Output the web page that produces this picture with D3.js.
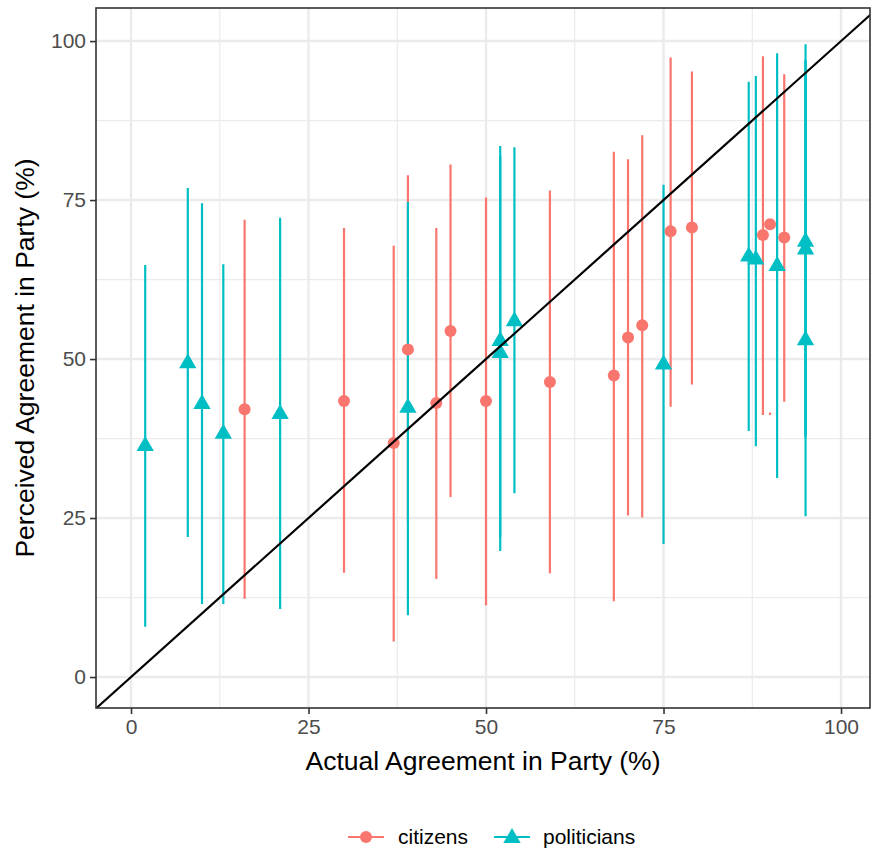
<!DOCTYPE html>
<html>
<head>
<meta charset="utf-8">
<script src="https://cdn.jsdelivr.net/npm/d3@7/dist/d3.min.js"></script>
<style>
  body { margin: 0; background: #fff; }
  svg { display: block; font-family: "Liberation Sans", Arial, Helvetica, sans-serif; }
</style>
</head>
<body>
<div id="chart"></div>
<script>
// Citizens: actual agreement, perceived mean, lower, upper
const citX  = [16, 30, 37, 39, 43, 45, 50, 59, 68, 70, 72, 76, 79, 89, 90, 92];
const citY  = [42.1, 43.4, 36.8, 51.5, 43.1, 54.4, 43.4, 46.4, 47.4, 53.4, 55.3, 70.1, 70.7, 69.5, 71.2, 69.1];
const citLo = [12.3, 16.4, 5.6, 24.4, 15.4, 28.3, 11.3, 16.3, 11.9, 25.4, 25.1, 42.5, 46.0, 41.2, 41.2, 43.3];
const citHi = [71.9, 70.6, 67.8, 78.9, 70.6, 80.6, 75.4, 76.5, 82.6, 81.4, 85.2, 97.4, 95.2, 97.6, 41.6, 94.8];

// Politicians
const polX  = [2, 8, 10, 13, 21, 39, 52, 52, 54, 75, 87, 88, 91, 95, 95, 95];
const polY  = [36.5, 49.5, 43.1, 38.4, 41.5, 42.5, 53.0, 51.1, 56.1, 49.3, 66.3, 65.8, 64.8, 68.6, 67.4, 53.1];
const polLo = [7.9, 22.0, 11.5, 11.5, 10.7, 9.7, 19.8, 22.0, 28.9, 20.9, 38.7, 36.3, 31.3, 37.7, 25.3, 38.0];
const polHi = [64.8, 76.9, 74.5, 64.9, 72.2, 74.7, 83.5, 82.0, 83.3, 77.4, 93.6, 94.5, 98.1, 99.5, 97.0, 97.0];

const groups = ["citizens", "politicians"];
const colors = ["#F8766D", "#00BFC4"];
const ticks = [0, 25, 50, 75, 100];

const W = 872, H = 852;
const P = { left: 96, right: 870, top: 8, bottom: 708 };

const rows = [];
citX.forEach((x, i) => rows.push({ g: "citizens", x, y: citY[i], lo: citLo[i], hi: citHi[i] }));
polX.forEach((x, i) => rows.push({ g: "politicians", x, y: polY[i], lo: polLo[i], hi: polHi[i] }));

const xS = d3.scaleLinear().domain([-4.93, 104.08]).range([P.left, P.right]);
const yS = d3.scaleLinear().domain([-4.87, 105.2]).range([P.bottom, P.top]);
const col = d3.scaleOrdinal().domain(groups).range(colors);

const svg = d3.select("#chart").append("svg")
  .attr("width", W).attr("height", H);

// Panel background
svg.append("rect")
  .attr("x", P.left).attr("y", P.top)
  .attr("width", P.right - P.left).attr("height", P.bottom - P.top)
  .attr("fill", "#fff");

// Grid: minor then major
const minor = [12.5, 37.5, 62.5, 87.5];
const grid = svg.append("g");
minor.forEach(v => {
  grid.append("line").attr("x1", xS(v)).attr("x2", xS(v)).attr("y1", P.top).attr("y2", P.bottom)
    .attr("stroke", "#EBEBEB").attr("stroke-width", 1.2);
  grid.append("line").attr("x1", P.left).attr("x2", P.right).attr("y1", yS(v)).attr("y2", yS(v))
    .attr("stroke", "#EBEBEB").attr("stroke-width", 1.2);
});
ticks.forEach(v => {
  grid.append("line").attr("x1", xS(v)).attr("x2", xS(v)).attr("y1", P.top).attr("y2", P.bottom)
    .attr("stroke", "#EBEBEB").attr("stroke-width", 2.4);
  grid.append("line").attr("x1", P.left).attr("x2", P.right).attr("y1", yS(v)).attr("y2", yS(v))
    .attr("stroke", "#EBEBEB").attr("stroke-width", 2.4);
});

// Clip for data
svg.append("clipPath").attr("id", "clip").append("rect")
  .attr("x", P.left).attr("y", P.top)
  .attr("width", P.right - P.left).attr("height", P.bottom - P.top);

const plot = svg.append("g").attr("clip-path", "url(#clip)");

// Ranges first, then points (pointrange draw order)
plot.selectAll("line.range").data(rows).join("line")
  .attr("class", "range")
  .attr("x1", d => xS(d.x)).attr("x2", d => xS(d.x))
  .attr("y1", d => yS(d.lo)).attr("y2", d => yS(d.hi))
  .attr("stroke", d => col(d.g)).attr("stroke-width", 2.2);

const tri = d3.symbol().type(d3.symbolTriangle).size(130);

plot.selectAll("circle.pt").data(rows.filter(d => d.g === "citizens")).join("circle")
  .attr("class", "pt")
  .attr("cx", d => xS(d.x)).attr("cy", d => yS(d.y))
  .attr("r", 6).attr("fill", col("citizens"));

plot.selectAll("path.pt").data(rows.filter(d => d.g === "politicians")).join("path")
  .attr("class", "pt")
  .attr("transform", d => `translate(${xS(d.x)},${yS(d.y) + 1})`)
  .attr("d", tri).attr("fill", col("politicians"));

// Identity line
plot.append("line")
  .attr("x1", xS(-10)).attr("y1", yS(-10))
  .attr("x2", xS(110)).attr("y2", yS(110))
  .attr("stroke", "#000").attr("stroke-width", 2.2);

// Panel border
svg.append("rect")
  .attr("x", P.left).attr("y", P.top)
  .attr("width", P.right - P.left).attr("height", P.bottom - P.top)
  .attr("fill", "none").attr("stroke", "#333333").attr("stroke-width", 1.6);

// Axes
const xAxis = svg.append("g").attr("transform", `translate(0,${P.bottom})`)
  .call(d3.axisBottom(xS).tickValues(ticks).tickSize(6).tickPadding(5));
const yAxis = svg.append("g").attr("transform", `translate(${P.left},0)`)
  .call(d3.axisLeft(yS).tickValues(ticks).tickSize(6).tickPadding(4));
[xAxis, yAxis].forEach(a => {
  a.select(".domain").remove();
  a.selectAll(".tick line").attr("stroke", "#333333").attr("stroke-width", 1.6);
  a.selectAll(".tick text").attr("fill", "#4D4D4D")
    .style("font-size", "21px").style("font-family", "Liberation Sans, Arial, sans-serif");
});

// Axis titles
svg.append("text")
  .attr("x", (P.left + P.right) / 2).attr("y", 770)
  .attr("text-anchor", "middle").attr("font-size", 26.5).attr("fill", "#000")
  .text("Actual Agreement in Party (%)");

svg.append("text")
  .attr("transform", `translate(34,${(P.top + P.bottom) / 2}) rotate(-90)`)
  .attr("text-anchor", "middle").attr("font-size", 26.5).attr("fill", "#000")
  .text("Perceived Agreement in Party (%)");

// Legend
const legY = 837;
const legend = svg.append("g");
const keyX = [348, 494];
const labX = [398, 543];
groups.forEach((g, i) => {
  legend.append("line")
    .attr("x1", keyX[i]).attr("x2", keyX[i] + 36)
    .attr("y1", legY).attr("y2", legY)
    .attr("stroke", colors[i]).attr("stroke-width", 2.2);
  if (i === 0) {
    legend.append("circle").attr("cx", keyX[i] + 18).attr("cy", legY).attr("r", 6).attr("fill", colors[i]);
  } else {
    legend.append("path").attr("transform", `translate(${keyX[i] + 18},${legY + 1})`)
      .attr("d", tri).attr("fill", colors[i]);
  }
  legend.append("text")
    .attr("x", labX[i]).attr("y", legY).attr("dy", "0.35em")
    .attr("font-size", 21).attr("fill", "#000")
    .text(g);
});
</script>
</body>
</html>
